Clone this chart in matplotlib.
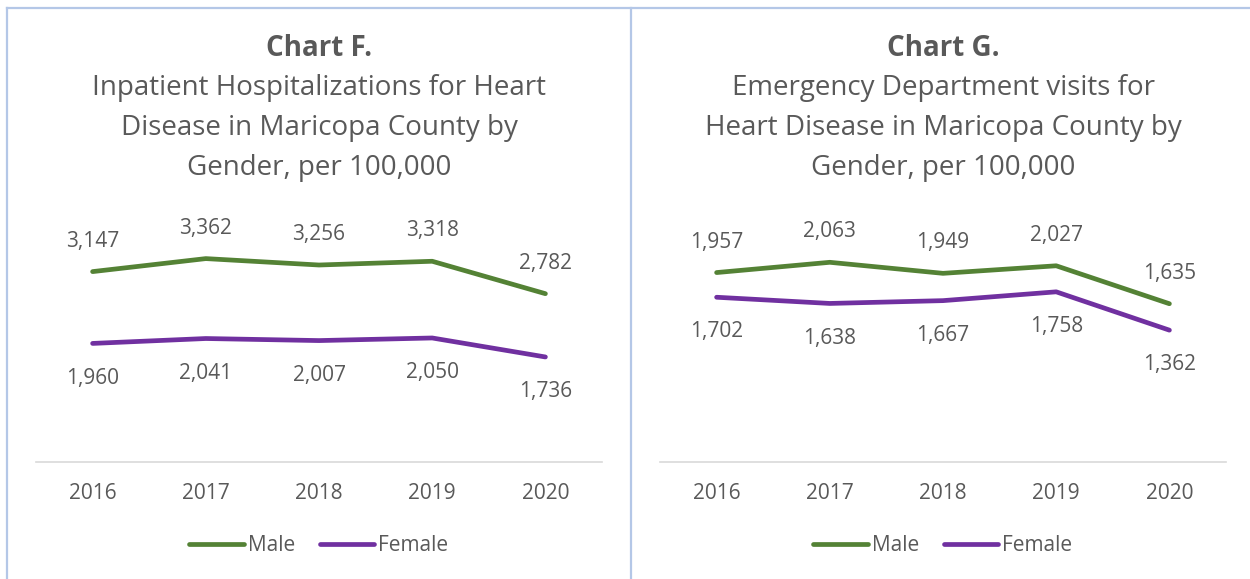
import matplotlib.pyplot as plt
from matplotlib.lines import Line2D

years = ['2016', '2017', '2018', '2019', '2020']

inpatient_male = [3147, 3362, 3256, 3318, 2782]
inpatient_female = [1960, 2041, 2007, 2050, 1736]

ed_male = [1957, 2063, 1949, 2027, 1635]
ed_female = [1702, 1638, 1667, 1758, 1362]

title_f = ['Inpatient Hospitalizations for Heart', 'Disease in Maricopa County by', 'Gender, per 100,000']
title_g = ['Emergency Department visits for', 'Heart Disease in Maricopa County by', 'Gender, per 100,000']

GREEN = '#548235'
PURPLE = '#7030A0'
TXT = '#595959'
BORDER = '#B4C7E7'

plt.rcParams['font.family'] = ['Open Sans', 'DejaVu Sans']

W, H = 1250, 579
fig = plt.figure(figsize=(W / 100, H / 100), dpi=100)

# panel frame lines
for x0, y0, x1, y1 in [(7, 8, 1250, 8), (7, 8, 7, 579), (631, 8, 631, 579)]:
    fig.add_artist(Line2D([x0 / W, x1 / W], [1 - y0 / H, 1 - y1 / H], color=BORDER, lw=1.6))


def panel(left_px, center_px, male, female, ymax, head, lines):
    ax = fig.add_axes([left_px / W, 1 - 462 / H, 566 / W, 242 / H])
    x = range(len(years))
    ax.plot(x, male, color=GREEN, lw=3.4, solid_capstyle='round', label='Male')
    ax.plot(x, female, color=PURPLE, lw=3.4, solid_capstyle='round', label='Female')
    ax.set_xlim(-0.5, len(years) - 0.5)
    ax.set_ylim(0, ymax)
    ax.set_xticks(list(x))
    ax.set_xticklabels(years, fontsize=15, color=TXT)
    ax.tick_params(axis='x', length=0, pad=15)
    ax.set_yticks([])
    for s in ['top', 'right', 'left']:
        ax.spines[s].set_visible(False)
    ax.spines['bottom'].set_color('#D9D9D9')
    ax.spines['bottom'].set_linewidth(1.2)
    for i, v in enumerate(male):
        ax.annotate('{:,}'.format(v), (i, v), xytext=(0, 22), textcoords='offset points',
                    ha='center', va='center', fontsize=15, color=TXT)
    for i, v in enumerate(female):
        ax.annotate('{:,}'.format(v), (i, v), xytext=(0, -25), textcoords='offset points',
                    ha='center', va='center', fontsize=15, color=TXT)
    ax.legend(loc='center', bbox_to_anchor=(0.5, -0.345), ncol=2, frameon=False,
              fontsize=15, labelcolor=TXT, handlelength=2.6, handletextpad=0.2,
              columnspacing=1.2)
    fig.text(center_px / W, 1 - 48 / H, head, ha='center', va='center',
             fontsize=20, fontweight='bold', color=TXT)
    for k, t in enumerate(lines):
        fig.text(center_px / W, 1 - (88 + 40 * k) / H, t, ha='center', va='center',
                 fontsize=20, color=TXT)
    return ax


panel(36, 319, inpatient_male, inpatient_female, 4000, 'Chart F.', title_f)
panel(660, 943, ed_male, ed_female, 2500, 'Chart G.', title_g)

plt.savefig('out.png', dpi=100)
